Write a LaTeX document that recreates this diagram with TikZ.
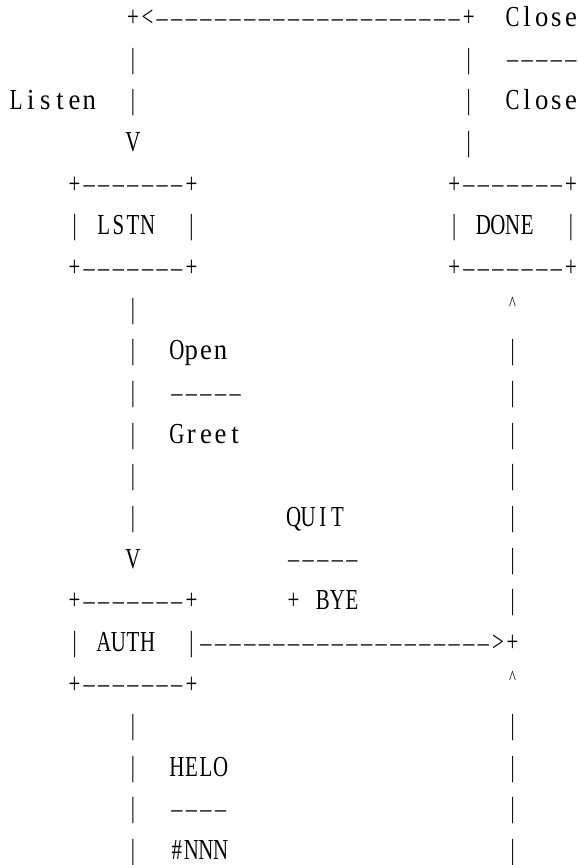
\documentclass[tikz,border=0pt]{standalone}
\usepackage{fontspec}
\usepackage{graphicx}
\setmainfont{Liberation Serif}[FakeStretch=0.72]
\newfontfamily\lowfont{Liberation Serif}[FakeStretch=0.92]
\newlength\cw \setlength\cw{14.6pt}
\makeatletter
\def\ms{}
\def\monoglyph#1{%
  \ifx#1\ms\else
  \ifx#1-\raisebox{0.08em}{\scalebox{2.1}[0.6]{-}}\else
  \ifx#1\textasciicircum\raisebox{0.28em}{\scalebox{0.7}{\textasciicircum}}\else
  \ifnum\lccode`#1=`#1 {\lowfont#1}\else#1\fi\fi\fi\fi}
\def\monochar#1{\makebox[\cw][c]{\monoglyph{#1}}}
\def\mono#1{\mono@loop#1\relax}
\def\mono@loop#1{\ifx#1\relax\else\monochar{#1}\expandafter\mono@loop\fi}
\makeatother
\tikzset{
  seg/.style={anchor=base west, inner sep=0pt, outer sep=0pt,
    font=\fontsize{29pt}{35pt}\selectfont},
}
\newcommand\seg[4]{\node[seg] (#1) at ({8.9+14.6*#2},{26.6+41.65*#3}) {\mono{#4}};}
\begin{document}
\begin{tikzpicture}[x=1pt,y=-1pt]
\useasboundingbox (0,0) rectangle (578,865);
% row 0
\seg{topline}{8}{0}{+<---------------------+}
\seg{closeA}{34}{0}{Close}
% row 1
\seg{l1a}{8}{1}{|}
\seg{r1a}{31}{1}{|}
\seg{closeRule}{34}{1}{-----}
% row 2
\seg{listen}{0}{2}{Listen}
\seg{l2a}{8}{2}{|}
\seg{r2a}{31}{2}{|}
\seg{closeB}{34}{2}{Close}
% row 3
\seg{vA}{8}{3}{V}
\seg{r3a}{31}{3}{|}
% LSTN / DONE boxes
\seg{lstnTop}{4}{4}{+-------+}
\seg{doneTop}{30}{4}{+-------+}
\seg{lstnL}{4}{5}{|}
\seg{lstn}{6}{5}{LSTN}
\seg{lstnR}{12}{5}{|}
\seg{doneL}{30}{5}{|}
\seg{done}{32}{5}{DONE}
\seg{doneR}{38}{5}{|}
\seg{lstnBot}{4}{6}{+-------+}
\seg{doneBot}{30}{6}{+-------+}
% rows 7-13
\seg{l7}{8}{7}{|}
\seg{caretA}{34}{7}{\textasciicircum}
\seg{l8}{8}{8}{|}
\seg{open}{11}{8}{Open}
\seg{r8}{34}{8}{|}
\seg{l9}{8}{9}{|}
\seg{openRule}{11}{9}{-----}
\seg{r9}{34}{9}{|}
\seg{l10}{8}{10}{|}
\seg{greet}{11}{10}{Greet}
\seg{r10}{34}{10}{|}
\seg{l11}{8}{11}{|}
\seg{r11}{34}{11}{|}
\seg{l12}{8}{12}{|}
\seg{quit}{19}{12}{QUIT}
\seg{r12}{34}{12}{|}
\seg{vB}{8}{13}{V}
\seg{quitRule}{19}{13}{-----}
\seg{r13}{34}{13}{|}
% AUTH box
\seg{authTop}{4}{14}{+-------+}
\seg{bye}{19}{14}{+\ms BYE}
\seg{r14}{34}{14}{|}
\seg{authL}{4}{15}{|}
\seg{auth}{6}{15}{AUTH}
\seg{authArrow}{12}{15}{|-------------------->+}
\seg{authBot}{4}{16}{+-------+}
\seg{caretB}{34}{16}{\textasciicircum}
% rows 17-20
\seg{l17}{8}{17}{|}
\seg{r17}{34}{17}{|}
\seg{l18}{8}{18}{|}
\seg{helo}{11}{18}{HELO}
\seg{r18}{34}{18}{|}
\seg{l19}{8}{19}{|}
\seg{heloRule}{11}{19}{----}
\seg{r19}{34}{19}{|}
\seg{l20}{8}{20}{|}
\seg{nnn}{11}{20}{\#NNN}
\seg{r20}{34}{20}{|}
\end{tikzpicture}
\end{document}
